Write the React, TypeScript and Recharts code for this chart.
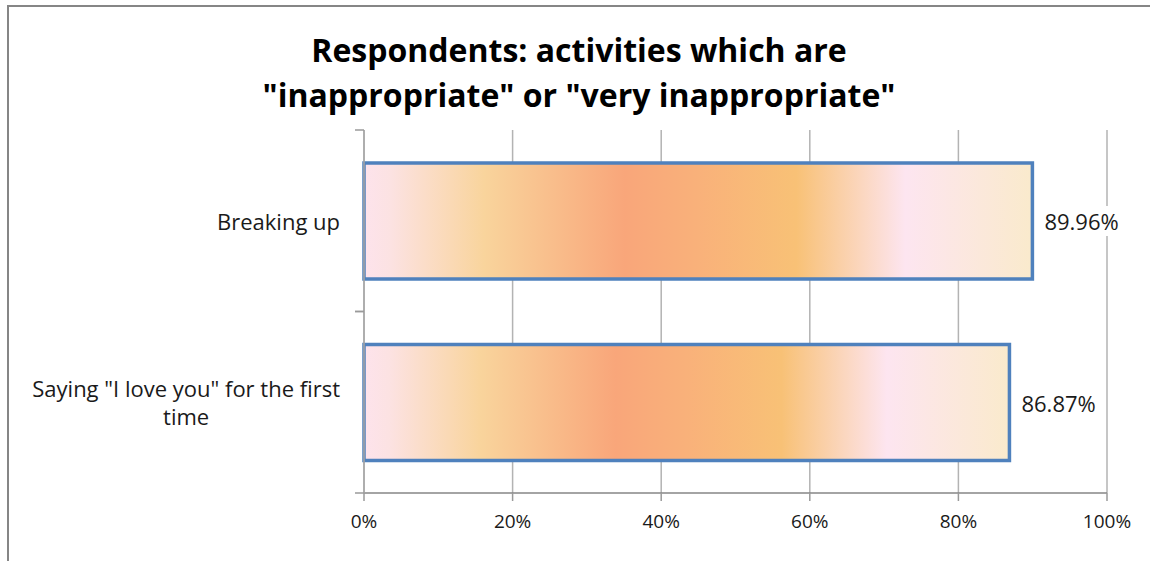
import React from 'react';
import { BarChart, Bar, XAxis, YAxis, CartesianGrid, LabelList } from 'recharts';

const categories = ['Breaking up', 'Saying "I love you" for the first time'];
const values = [0.8996, 0.8687];
const xTicks = [0, 0.2, 0.4, 0.6, 0.8, 1];
const titleLines = ['Respondents: activities which are', '"inappropriate" or "very inappropriate"'];

const data = categories.map((name, i) => ({ name, value: values[i] }));

const FONT = '"Open Sans", sans-serif';
const LABEL_SIZE = 22;
const TICK_SIZE = 19;

let ctx: CanvasRenderingContext2D | null = null;
function measure(t: string, size: number, weight = 'normal') {
  if (!ctx) ctx = document.createElement('canvas').getContext('2d');
  if (!ctx) return t.length * size * 0.5;
  ctx.font = `${weight} ${size}px "Open Sans"`;
  return ctx.measureText(t).width;
}

function wrap(text: string, maxChars: number) {
  const words = text.split(' ');
  const lines: string[] = [];
  let cur = '';
  for (const w of words) {
    const next = cur ? cur + ' ' + w : w;
    if (next.length > maxChars && cur) {
      lines.push(cur);
      cur = w;
    } else cur = next;
  }
  if (cur) lines.push(cur);
  return lines;
}

const YTick = (props: any) => {
  const { x, y, payload } = props;
  const lines = wrap(String(payload.value), 34);
  const maxW = Math.max(...lines.map((l) => measure(l, LABEL_SIZE)));
  const cx = x - maxW / 2;
  const lh = 28;
  const axisX = x + 24;
  const half = payload.offset ?? 0;
  return (
    <g>
      <text textAnchor="middle" fontFamily={FONT} fontSize={LABEL_SIZE} fill="#1a1a1a">
        {lines.map((l, i) => (
          <tspan key={i} x={cx} y={y + (i - (lines.length - 1) / 2) * lh} dominantBaseline="central">
            {l}
          </tspan>
        ))}
      </text>
      <line x1={axisX - 9} x2={axisX} y1={y - half} y2={y - half} stroke="#9a9a9a" strokeWidth={1.5} />
      <line x1={axisX - 9} x2={axisX} y1={y + half} y2={y + half} stroke="#9a9a9a" strokeWidth={1.5} />
    </g>
  );
};

const ValueLabel = (props: any) => {
  const { x, y, width, height, value } = props;
  const txt = (Number(value) * 100).toFixed(2) + '%';
  const tx = Number(x) + Number(width) + 12;
  const ty = Number(y) + Number(height) / 2;
  const w = measure(txt, LABEL_SIZE);
  return (
    <g>
      <rect x={tx - 2} y={ty - 15} width={w + 4} height={30} fill="#ffffff" />
      <text x={tx} y={ty} textAnchor="start" dominantBaseline="central" fontFamily={FONT} fontSize={LABEL_SIZE} fill="#1a1a1a">
        {txt}
      </text>
    </g>
  );
};

export default function App() {
  return (
    <div style={{ position: 'absolute', left: 0, top: 0, width: 1150, height: 561, background: '#fff', overflow: 'hidden' }}>
      <div
        style={{
          position: 'absolute',
          left: 7,
          top: 5,
          width: 1150 - 7,
          height: 561 - 5,
          borderLeft: '2px solid #868686',
          borderTop: '2px solid #868686',
          boxSizing: 'border-box',
        }}
      />
      <div
        style={{
          position: 'absolute',
          left: 8,
          top: 27,
          width: 1142,
          textAlign: 'center',
          fontFamily: FONT,
          fontWeight: 700,
          fontSize: 32,
          lineHeight: '45px',
          color: '#000',
        }}
      >
        {titleLines.map((l, i) => (
          <div key={i}>{l}</div>
        ))}
      </div>
      <div style={{ position: 'absolute', left: 0, top: 0 }}>
        <BarChart
          width={1150}
          height={561}
          data={data}
          layout="vertical"
          margin={{ top: 130, right: 43, bottom: 28, left: 0 }}
        >
          <defs>
            <linearGradient id="barFill" x1="0" y1="0" x2="1" y2="0">
              <stop offset="0" stopColor="#FDE3EC" />
              <stop offset="0.04" stopColor="#FCE2E2" />
              <stop offset="0.18" stopColor="#F9D49C" />
              <stop offset="0.39" stopColor="#F9A67A" />
              <stop offset="0.5" stopColor="#F9B17A" />
              <stop offset="0.647" stopColor="#F8C176" />
              <stop offset="0.81" stopColor="#FDE5F0" />
              <stop offset="1" stopColor="#FAEACC" />
            </linearGradient>
          </defs>
          <CartesianGrid horizontal={false} vertical stroke="#b3b3b3" strokeWidth={1.5} />
          <XAxis
            type="number"
            domain={[0, 1]}
            ticks={xTicks}
            tickFormatter={(v: number) => `${Math.round(v * 100)}%`}
            axisLine={{ stroke: '#868686', strokeWidth: 1.5 }}
            tickLine={{ stroke: '#9a9a9a', strokeWidth: 1.5 }}
            tickSize={8}
            tickMargin={14}
            height={40}
            tick={{ fontFamily: FONT, fontSize: TICK_SIZE, fill: '#1a1a1a' }}
            interval={0}
          />
          <YAxis
            type="category"
            dataKey="name"
            width={364}
            axisLine={{ stroke: '#a6a6a6', strokeWidth: 1.5 }}
            tickLine={false}
            tickSize={0}
            tickMargin={24}
            tick={<YTick />}
            interval={0}
          />
          <Bar dataKey="value" fill="url(#barFill)" stroke="#4F81BD" strokeWidth={3.5} barSize={116} isAnimationActive={false}>
            <LabelList dataKey="value" content={<ValueLabel />} />
          </Bar>
        </BarChart>
      </div>
    </div>
  );
}
